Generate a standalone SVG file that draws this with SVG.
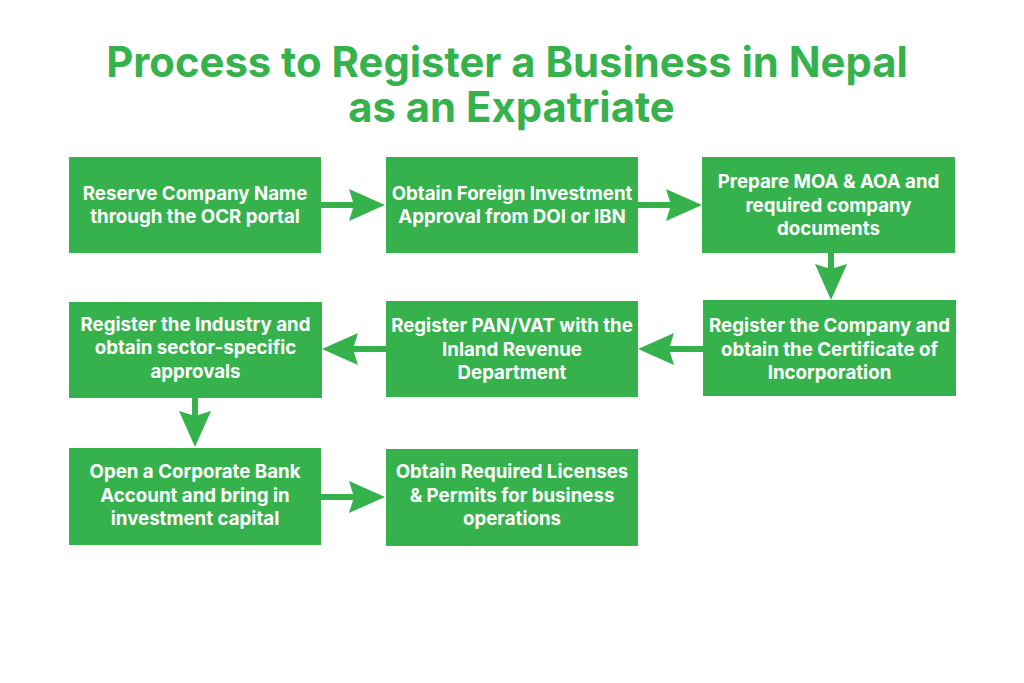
<svg xmlns="http://www.w3.org/2000/svg" width="1024" height="683" viewBox="0 0 1024 683">
  <style>
    .box { fill: #36B24D; }
    .lbl { font-family: Inter, Roboto, "Liberation Sans", sans-serif; font-weight: 700; font-size: 18.7px; fill: #FFFFFF; text-anchor: middle; }
    .title { font-family: Inter, Roboto, "Liberation Sans", sans-serif; font-weight: 700; font-size: 41.8px; fill: #36B24D; text-anchor: middle; }
    .conn { stroke: #36B24D; stroke-width: 6; fill: none; }
  </style>
  <defs>
    <marker id="ah" markerUnits="userSpaceOnUse" markerWidth="36" markerHeight="32" refX="5" refY="16" orient="auto" viewBox="0 0 36 32">
      <path d="M0,0 L36,16 L0,32 L5,16 Z" fill="#36B24D"/>
    </marker>
  </defs>
  <rect width="1024" height="683" fill="#FFFFFF"/>
  <g id="title">
    <text class="title" x="507" y="77">Process to Register a Business in Nepal</text>
    <text class="title" x="511.5" y="122">as an Expatriate</text>
  </g>
  <g id="connectors">
    <line class="conn" x1="321" y1="205" x2="354" y2="205" marker-end="url(#ah)"/>
    <line class="conn" x1="638" y1="205" x2="671" y2="205" marker-end="url(#ah)"/>
    <line class="conn" x1="831" y1="253" x2="831" y2="269" marker-end="url(#ah)"/>
    <line class="conn" x1="703" y1="349" x2="669" y2="349" marker-end="url(#ah)"/>
    <line class="conn" x1="386" y1="349" x2="353" y2="349" marker-end="url(#ah)"/>
    <line class="conn" x1="195" y1="398" x2="195" y2="416" marker-end="url(#ah)"/>
    <line class="conn" x1="321" y1="497" x2="354" y2="497" marker-end="url(#ah)"/>
  </g>
  <g id="n1">
    <rect class="box" x="69" y="157" width="252" height="96"/>
    <text class="lbl" x="195" y="199.5">Reserve Company Name</text>
    <text class="lbl" x="195" y="222.5">through the OCR portal</text>
  </g>
  <g id="n2">
    <rect class="box" x="386" y="157" width="252" height="96"/>
    <text class="lbl" x="512" y="199.5">Obtain Foreign Investment</text>
    <text class="lbl" x="512" y="222.5">Approval from DOI or IBN</text>
  </g>
  <g id="n3">
    <rect class="box" x="702" y="157" width="253" height="96"/>
    <text class="lbl" x="828.5" y="188">Prepare MOA &amp; AOA and</text>
    <text class="lbl" x="828.5" y="211.5">required company</text>
    <text class="lbl" x="828.5" y="235">documents</text>
  </g>
  <g id="n4">
    <rect class="box" x="703" y="300" width="253" height="96"/>
    <text class="lbl" x="829.5" y="332">Register the Company and</text>
    <text class="lbl" x="829.5" y="355.5">obtain the Certificate of</text>
    <text class="lbl" x="829.5" y="379">Incorporation</text>
  </g>
  <g id="n5">
    <rect class="box" x="386" y="301" width="252" height="96"/>
    <text class="lbl" x="512" y="332">Register PAN/VAT with the</text>
    <text class="lbl" x="512" y="355.5">Inland Revenue</text>
    <text class="lbl" x="512" y="379">Department</text>
  </g>
  <g id="n6">
    <rect class="box" x="69" y="302" width="253" height="96"/>
    <text class="lbl" x="195.5" y="330.5">Register the Industry and</text>
    <text class="lbl" x="195.5" y="354">obtain sector-specific</text>
    <text class="lbl" x="195.5" y="377.5">approvals</text>
  </g>
  <g id="n7">
    <rect class="box" x="69" y="448" width="252" height="97"/>
    <text class="lbl" x="195" y="478">Open a Corporate Bank</text>
    <text class="lbl" x="195" y="501.5">Account and bring in</text>
    <text class="lbl" x="195" y="525">investment capital</text>
  </g>
  <g id="n8">
    <rect class="box" x="386" y="449" width="252" height="97"/>
    <text class="lbl" x="512" y="478">Obtain Required Licenses</text>
    <text class="lbl" x="512" y="501.5">&amp; Permits for business</text>
    <text class="lbl" x="512" y="525">operations</text>
  </g>
</svg>
